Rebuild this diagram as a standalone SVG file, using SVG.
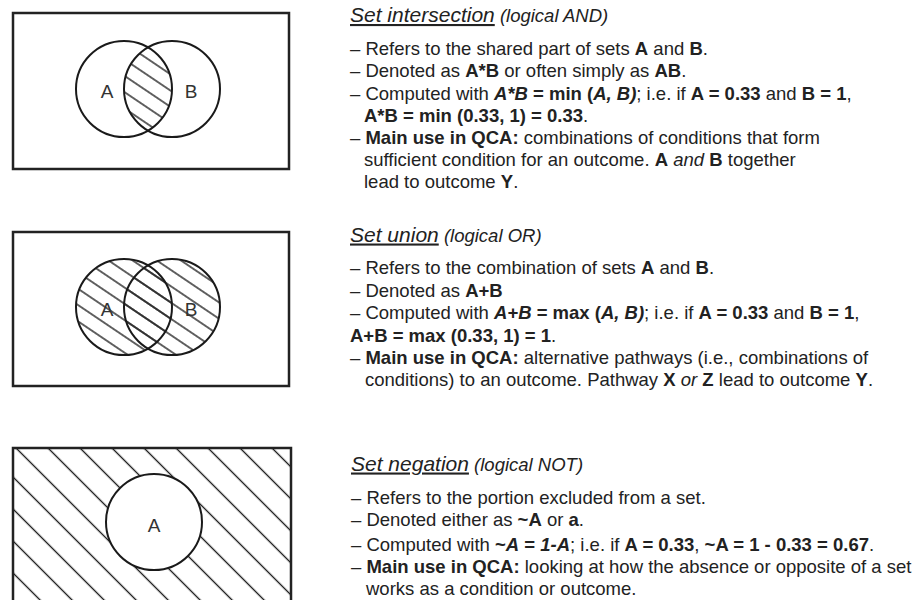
<svg xmlns="http://www.w3.org/2000/svg" width="922" height="600" viewBox="0 0 922 600">
<style>
  .frame { fill: none; stroke: #222; stroke-width: 2.5; }
  .circ { fill: none; stroke: #1a1a1a; stroke-width: 2; }
  .h { stroke: #222; stroke-width: 1.4; }
  .lbl { font-family: "Liberation Sans", Arial, sans-serif; font-size: 19px; fill: #333; text-anchor: middle; }
  .tx { font-family: "Liberation Sans", Arial, sans-serif; font-size: 18.5px; fill: #222; }
  .ttl { font-style: italic; font-size: 21px; text-decoration: underline; }
  .sub { font-style: italic; font-size: 18.5px; }
  .b { font-weight: bold; }
  .i { font-style: italic; }
  .bi { font-weight: bold; font-style: italic; }
</style>
<defs>
  <pattern id="hatchFine" patternUnits="userSpaceOnUse" width="27" height="13.5" patternTransform="rotate(34)">
    <line class="h" x1="-1" y1="6.75" x2="28" y2="6.75"/>
  </pattern>
  <pattern id="hatchWide" patternUnits="userSpaceOnUse" width="22.627" height="22.627" patternTransform="rotate(45)">
    <line class="h" x1="-1" y1="11.31" x2="23.627" y2="11.31"/>
  </pattern>
  <clipPath id="clipA1"><circle cx="124" cy="89" r="48"/></clipPath>
  <clipPath id="clipB1"><circle cx="172" cy="89" r="48"/></clipPath>
</defs>

<g id="panel-intersection">
  <rect class="frame" x="13" y="13" width="276" height="156"/>
  <g clip-path="url(#clipA1)">
    <rect x="120" y="35" width="60" height="110" fill="url(#hatchFine)" clip-path="url(#clipB1)"/>
  </g>
  <circle class="circ" cx="124" cy="89" r="48"/>
  <circle class="circ" cx="172" cy="89" r="48"/>
  <text class="lbl" x="107" y="98">A</text>
  <text class="lbl" x="191" y="98">B</text>
</g>

<g id="panel-union">
  <rect class="frame" x="13" y="232" width="276" height="154"/>
  <circle cx="124" cy="307" r="48" fill="url(#hatchFine)"/>
  <circle cx="172" cy="307" r="48" fill="url(#hatchFine)"/>
  <circle class="circ" cx="124" cy="307" r="48"/>
  <circle class="circ" cx="172" cy="307" r="48"/>
  <text class="lbl" x="107" y="316">A</text>
  <text class="lbl" x="191" y="316">B</text>
</g>

<g id="panel-negation">
  <rect x="13" y="448" width="278" height="170" fill="url(#hatchWide)"/>
  <rect class="frame" x="13" y="448" width="278" height="170"/>
  <circle cx="154" cy="522" r="48" fill="#fff" stroke="#1a1a1a" stroke-width="2"/>
  <text class="lbl" x="154" y="532">A</text>
</g>

<g id="text-intersection" class="tx">
  <text x="350" y="22"><tspan class="ttl">Set intersection</tspan><tspan class="sub"> (logical AND)</tspan></text>
  <text x="350" y="55">– Refers to the shared part of sets <tspan class="b">A</tspan> and <tspan class="b">B</tspan>.</text>
  <text x="350" y="77">– Denoted as <tspan class="b">A*B</tspan> or often simply as <tspan class="b">AB</tspan>.</text>
  <text x="350" y="99.5">– Computed with <tspan class="bi">A*B</tspan><tspan class="b"> = min (</tspan><tspan class="bi">A, B)</tspan>; i.e. if <tspan class="b">A = 0.33</tspan> and <tspan class="b">B = 1</tspan>,</text>
  <text x="364" y="121.5"><tspan class="b">A*B = min (0.33, 1) = 0.33</tspan>.</text>
  <text x="350" y="144">– <tspan class="b">Main use in QCA:</tspan> combinations of conditions that form</text>
  <text x="364" y="166">sufficient condition for an outcome. <tspan class="b">A</tspan> <tspan class="i">and</tspan> <tspan class="b">B</tspan> together</text>
  <text x="364" y="188">lead to outcome <tspan class="b">Y</tspan>.</text>
</g>

<g id="text-union" class="tx">
  <text x="350" y="241.5"><tspan class="ttl">Set union</tspan><tspan class="sub"> (logical OR)</tspan></text>
  <text x="350" y="274">– Refers to the combination of sets <tspan class="b">A</tspan> and <tspan class="b">B</tspan>.</text>
  <text x="350" y="296.5">– Denoted as <tspan class="b">A+B</tspan></text>
  <text x="350" y="319">– Computed with <tspan class="bi">A+B</tspan><tspan class="b"> = max (</tspan><tspan class="bi">A, B)</tspan>; i.e. if <tspan class="b">A = 0.33</tspan> and <tspan class="b">B = 1</tspan>,</text>
  <text x="350" y="341.5"><tspan class="b">A+B = max (0.33, 1) = 1</tspan>.</text>
  <text x="350" y="363.5">– <tspan class="b">Main use in QCA:</tspan> alternative pathways (i.e., combinations of</text>
  <text x="365" y="385.5">conditions) to an outcome. Pathway <tspan class="b">X</tspan> <tspan class="i">or</tspan> <tspan class="b">Z</tspan> lead to outcome <tspan class="b">Y</tspan>.</text>
</g>

<g id="text-negation" class="tx">
  <text x="351" y="470.5"><tspan class="ttl">Set negation</tspan><tspan class="sub"> (logical NOT)</tspan></text>
  <text x="351" y="503.5">– Refers to the portion excluded from a set.</text>
  <text x="351" y="526">– Denoted either as <tspan class="b">~A</tspan> or <tspan class="b">a</tspan>.</text>
  <text x="351" y="550.5">– Computed with <tspan class="b">~</tspan><tspan class="bi">A</tspan><tspan class="b"> = </tspan><tspan class="bi">1-A</tspan>; i.e. if <tspan class="b">A = 0.33</tspan>, <tspan class="b">~A = 1 - 0.33 = 0.67</tspan>.</text>
  <text x="351" y="572.5">– <tspan class="b">Main use in QCA:</tspan> looking at how the absence or opposite of a set</text>
  <text x="366" y="595">works as a condition or outcome.</text>
</g>

<g id="connectors"/>
</svg>
